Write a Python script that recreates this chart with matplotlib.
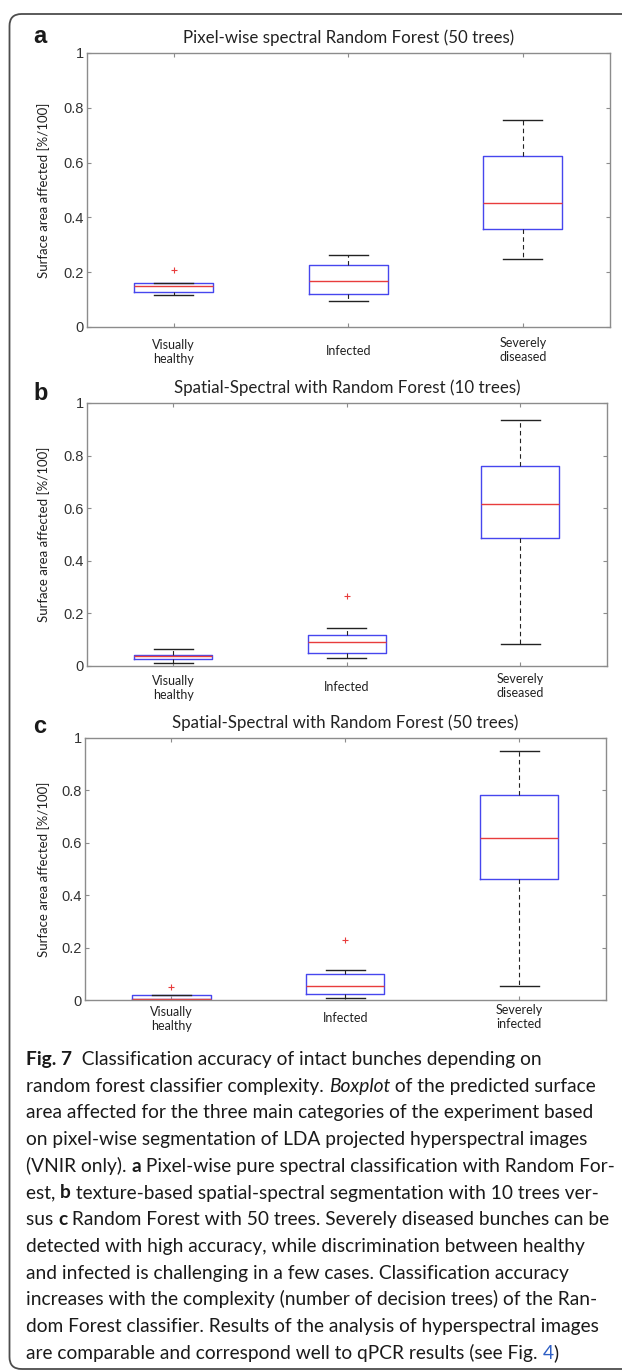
import matplotlib
matplotlib.use("Agg")
import matplotlib.pyplot as plt
from matplotlib.patches import FancyBboxPatch

# categorias y estadisticas de las cajas
cats_ab = ["Visually\nhealthy", "Infected", "Severely\ndiseased"]
cats_c = ["Visually\nhealthy", "Infected", "Severely\ninfected"]

titles = ["Pixel-wise spectral Random Forest (50 trees)",
          "Spatial-Spectral with Random Forest (10 trees)",
          "Spatial-Spectral with Random Forest (50 trees)"]
panel_letters = ["a", "b", "c"]

# whislo, q1, med, q3, whishi
stats_a = [[0.115, 0.129, 0.149, 0.159, 0.162],
           [0.095, 0.121, 0.169, 0.228, 0.263],
           [0.250, 0.359, 0.451, 0.624, 0.755]]
fliers_a = [[0.207], [], []]

stats_b = [[0.013, 0.028, 0.037, 0.043, 0.066],
           [0.030, 0.050, 0.093, 0.119, 0.145],
           [0.085, 0.485, 0.617, 0.762, 0.936]]
fliers_b = [[], [0.268], []]

stats_c = [[0.000, 0.003, 0.004, 0.018, 0.020],
           [0.009, 0.022, 0.052, 0.098, 0.116],
           [0.054, 0.461, 0.620, 0.781, 0.952]]
fliers_c = [[0.050], [0.228], []]

yticks = [0, 0.2, 0.4, 0.6, 0.8, 1]
ytick_labels = ["0", "0.2", "0.4", "0.6", "0.8", "1"]

caption = [
    [("Fig. 7", "bold", "normal", "#1a1a1a"), ("  Classification accuracy of intact bunches depending on", "normal", "normal", "#1a1a1a")],
    [("random forest classifier complexity. ", "normal", "normal", "#1a1a1a"), ("Boxplot", "normal", "italic", "#1a1a1a"), (" of the predicted surface", "normal", "normal", "#1a1a1a")],
    [("area affected for the three main categories of the experiment based", "normal", "normal", "#1a1a1a")],
    [("on pixel-wise segmentation of LDA projected hyperspectral images", "normal", "normal", "#1a1a1a")],
    [("(VNIR only). ", "normal", "normal", "#1a1a1a"), ("a", "bold", "normal", "#1a1a1a"), (" Pixel-wise pure spectral classification with Random For-", "normal", "normal", "#1a1a1a")],
    [("est, ", "normal", "normal", "#1a1a1a"), ("b", "bold", "normal", "#1a1a1a"), (" texture-based spatial-spectral segmentation with 10 trees ver-", "normal", "normal", "#1a1a1a")],
    [("sus ", "normal", "normal", "#1a1a1a"), ("c", "bold", "normal", "#1a1a1a"), (" Random Forest with 50 trees. Severely diseased bunches can be", "normal", "normal", "#1a1a1a")],
    [("detected with high accuracy, while discrimination between healthy", "normal", "normal", "#1a1a1a")],
    [("and infected is challenging in a few cases. Classification accuracy", "normal", "normal", "#1a1a1a")],
    [("increases with the complexity (number of decision trees) of the Ran-", "normal", "normal", "#1a1a1a")],
    [("dom Forest classifier. Results of the analysis of hyperspectral images", "normal", "normal", "#1a1a1a")],
    [("are comparable and correspond well to qPCR results (see Fig. ", "normal", "normal", "#1a1a1a"), ("4", "normal", "normal", "#2f5fc4"), (")", "normal", "normal", "#1a1a1a")],
]

W, H = 622, 1372
fig = plt.figure(figsize=(W / 100, H / 100), dpi=100)

# marco redondeado alrededor de toda la figura
frame = FancyBboxPatch((9.5, 3), 700, 1355, boxstyle="round,pad=0,rounding_size=12",
                       transform=None, fill=False, edgecolor="#4d4d4d", linewidth=1.3)
fig.patches.append(frame)

# posiciones de los ejes en pixeles: izquierda, derecha, arriba, abajo
boxes_px = [(86.5, 610, 53, 327), (86.5, 607, 403, 666), (84.5, 606, 738, 1000)]
letter_base = [43, 400, 733]
xlabel_pad = [16.5, 14.4, 12.2]

all_stats = [stats_a, stats_b, stats_c]
all_fliers = [fliers_a, fliers_b, fliers_c]
all_cats = [cats_ab, cats_ab, cats_c]

gray = "#8c8c8c"
for k in range(3):
    l, r, t, b = boxes_px[k]
    ax = fig.add_axes([l / W, 1 - b / H, (r - l) / W, (b - t) / H])
    bstats = []
    for s, f, c in zip(all_stats[k], all_fliers[k], all_cats[k]):
        bstats.append(dict(whislo=s[0], q1=s[1], med=s[2], q3=s[3], whishi=s[4], fliers=f, label=c))
    ax.bxp(bstats, positions=[1, 2, 3], widths=0.45, capwidths=0.225, showfliers=True,
           boxprops=dict(color="#4646ee", linewidth=1.0),
           medianprops=dict(color="#e83c3c", linewidth=1.0),
           whiskerprops=dict(color="#222222", linewidth=0.8, linestyle=(0, (4, 3))),
           capprops=dict(color="#222222", linewidth=1.0),
           flierprops=dict(marker="+", markeredgecolor="#e83c3c", markersize=4, markeredgewidth=0.8))
    ax.set_xlim(0.5, 3.5)
    ax.set_ylim(0, 1)
    ax.set_yticks(yticks)
    ax.set_yticklabels(ytick_labels, fontfamily="Liberation Sans", fontsize=10.5, color="#333333")
    ax.set_xticks([1, 2, 3])
    ax.set_xticklabels(all_cats[k], fontfamily="Lato", fontsize=9, color="#222222")
    for i, lab in enumerate(ax.get_xticklabels()):
        lab.set_verticalalignment("center" if i == 2 else "center_baseline")
    ax.tick_params(axis="both", direction="in", top=True, right=True, length=3,
                   color=gray, width=0.8)
    ax.tick_params(axis="y", pad=2)
    ax.tick_params(axis="x", pad=xlabel_pad[k])
    for sp in ax.spines.values():
        sp.set_color(gray)
        sp.set_linewidth(1.0)
    ax.set_title(titles[k], fontfamily="Lato", fontsize=12.2, color="#222222", pad=7)
    ax.set_ylabel("Surface area affected [%/100]", fontfamily="Lato", fontsize=9.5, color="#222222")
    ax.yaxis.set_label_coords((50 - l) / (r - l), 0.5)
    fig.text(33 / W, 1 - letter_base[k] / H, panel_letters[k], fontfamily="Liberation Sans",
             fontweight="bold", fontsize=17, va="baseline", ha="left", color="#1a1a1a")

# pie de figura, escrito por trozos para mezclar negrita y cursiva
renderer = fig.canvas.get_renderer()
y0 = 1065
step = 26.7
for i, line in enumerate(caption):
    x = 26
    y = y0 + i * step
    for txt, wgt, sty, col in line:
        t = fig.text(x / W, 1 - y / H, txt, fontfamily="Lato", fontsize=13.8, fontweight=wgt,
                     fontstyle=sty, color=col, va="baseline", ha="left")
        x += t.get_window_extent(renderer).width

fig.savefig("out.png", dpi=100)
